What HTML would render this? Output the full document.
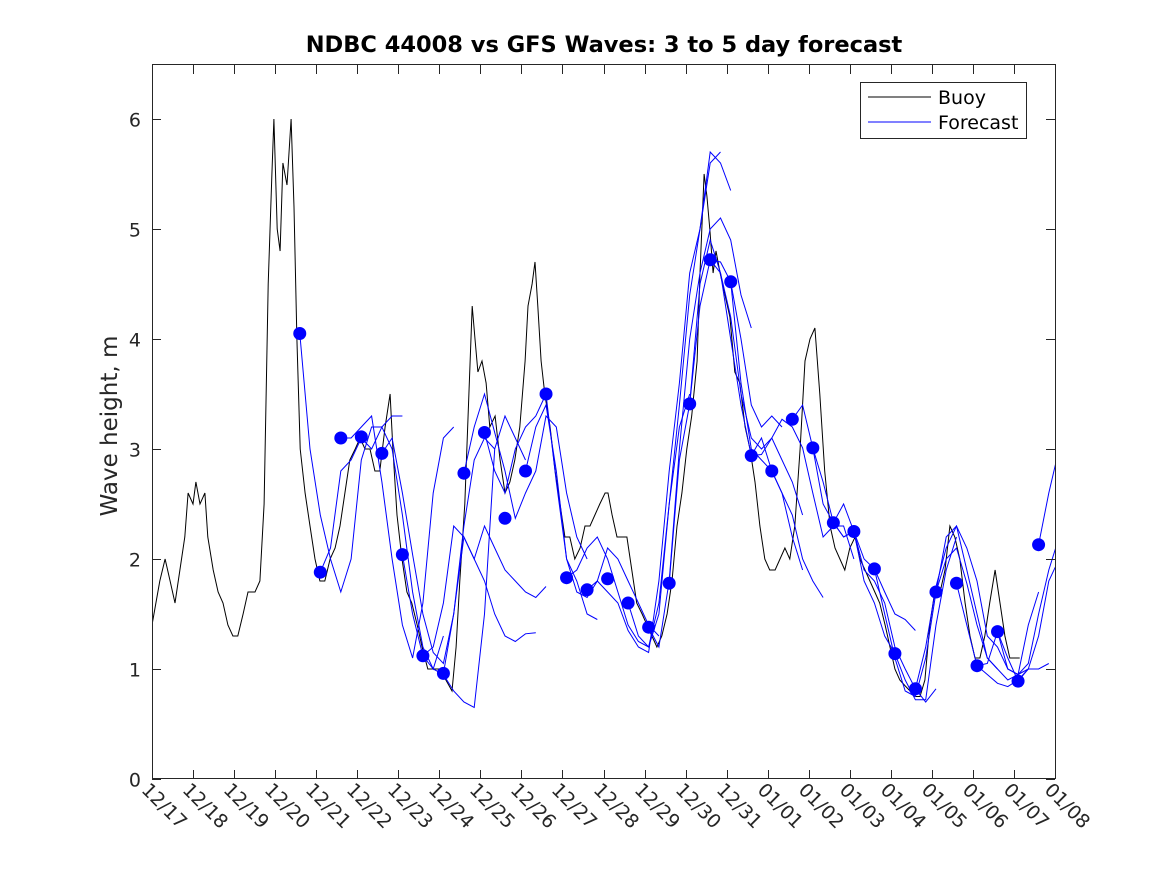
<!DOCTYPE html>
<html><head><meta charset="utf-8"><style>
body{margin:0;background:#fff;}
svg{display:block;font-family:"DejaVu Sans","Liberation Sans",sans-serif;}
</style></head><body>
<svg id="chart" width="1167" height="875" xmlns="http://www.w3.org/2000/svg">
<rect width="1167" height="875" fill="#fff"/>
<text x="604" y="52" text-anchor="middle" font-size="22.5" font-weight="bold" fill="#000">NDBC 44008 vs GFS Waves: 3 to 5 day forecast</text>
<text transform="translate(117,426) rotate(-90)" text-anchor="middle" font-size="23" fill="#262626">Wave height, m</text>
<g id="plot"></g>
<rect x="152.5" y="64.5" width="903" height="714" fill="none" stroke="#262626" stroke-width="1"/>
<g id="axes"></g>
<g>
<rect x="860.5" y="82.5" width="166" height="56" fill="#fff" stroke="#262626"/>
<line x1="868" y1="97" x2="931" y2="97" stroke="#000"/>
<text x="938" y="104" font-size="19" fill="#000">Buoy</text>
<line x1="868" y1="122" x2="931" y2="122" stroke="#00f"/>
<text x="938" y="129" font-size="19" fill="#000">Forecast</text>
</g>
</svg>
<script>
const xTickLabels=["12/17","12/18","12/19","12/20","12/21","12/22","12/23","12/24","12/25","12/26","12/27","12/28","12/29","12/30","12/31","01/01","01/02","01/03","01/04","01/05","01/06","01/07","01/08"];
const yTicks=[0,1,2,3,4,5,6];
const buoyDay=[0,.19,.32,.44,.56,.68,.80,.88,1.0,1.07,1.17,1.29,1.36,1.49,1.61,1.73,1.85,1.97,2.09,2.22,2.34,2.51,2.63,2.73,2.83,2.92,2.97,3.05,3.12,3.19,3.29,3.39,3.46,3.53,3.61,3.73,3.85,3.97,4.09,4.21,4.34,4.46,4.58,4.70,4.82,4.95,5.07,5.19,5.31,5.43,5.55,5.68,5.80,5.87,5.97,6.09,6.21,6.33,6.46,6.58,6.72,6.85,7.02,7.16,7.31,7.41,7.50,7.62,7.72,7.80,7.87,7.94,8.04,8.14,8.23,8.36,8.48,8.60,8.72,8.84,8.96,9.09,9.16,9.26,9.33,9.40,9.48,9.57,9.70,9.82,9.94,10.06,10.18,10.30,10.43,10.55,10.67,10.79,10.91,11.04,11.11,11.21,11.33,11.45,11.57,11.69,11.81,11.94,12.06,12.18,12.30,12.42,12.55,12.67,12.79,12.91,13.03,13.15,13.28,13.35,13.45,13.52,13.59,13.67,13.74,13.84,13.96,14.08,14.20,14.32,14.45,14.57,14.69,14.81,14.93,15.05,15.18,15.30,15.42,15.54,15.66,15.79,15.91,16.03,16.15,16.27,16.39,16.52,16.64,16.76,16.88,17.00,17.13,17.25,17.37,17.49,17.61,17.73,17.86,17.98,18.10,18.22,18.34,18.47,18.59,18.71,18.83,18.95,19.07,19.20,19.32,19.44,19.56,19.68,19.81,19.93,20.05,20.17,20.29,20.41,20.54,20.66,20.78,20.90,21.02,21.14];
const buoy=[1.4,1.8,2.0,1.8,1.6,1.9,2.2,2.6,2.5,2.7,2.5,2.6,2.2,1.9,1.7,1.6,1.4,1.3,1.3,1.5,1.7,1.7,1.8,2.5,4.5,5.5,6.0,5.0,4.8,5.6,5.4,6.0,5.2,4.0,3.0,2.6,2.3,2.0,1.8,1.8,2.0,2.1,2.3,2.6,2.9,3.0,3.1,3.0,3.0,2.8,2.8,3.2,3.5,3.0,2.4,2.0,1.7,1.6,1.4,1.2,1.0,1.0,1.0,0.9,0.8,1.2,1.8,2.5,3.5,4.3,4.0,3.7,3.8,3.6,3.2,3.3,2.9,2.6,2.7,2.9,3.2,3.8,4.3,4.5,4.7,4.3,3.8,3.5,3.2,2.8,2.5,2.2,2.2,2.0,2.1,2.3,2.3,2.4,2.5,2.6,2.6,2.4,2.2,2.2,2.2,1.9,1.6,1.5,1.4,1.3,1.2,1.3,1.5,1.8,2.3,2.6,3.0,3.3,3.8,4.6,5.5,5.3,5.0,4.6,4.8,4.6,4.4,4.2,3.7,3.6,3.2,3.0,2.7,2.3,2.0,1.9,1.9,2.0,2.1,2.0,2.3,3.0,3.8,4.0,4.1,3.5,2.8,2.3,2.1,2.0,1.9,2.1,2.2,2.0,1.9,1.8,1.7,1.6,1.4,1.2,1.0,0.9,0.85,0.8,0.75,0.75,0.9,1.4,1.7,1.7,1.9,2.3,2.2,2.0,1.6,1.3,1.1,1.1,1.3,1.6,1.9,1.6,1.3,1.1,1.1,1.1];
const markerStartDay=3.6, markerStep=0.5, fcStep=0.25;
const markers=[4.05,1.88,3.1,3.11,2.96,2.04,1.12,0.96,2.78,3.15,2.37,2.8,3.5,1.83,1.72,1.82,1.6,1.38,1.78,3.41,4.72,4.52,2.94,2.8,3.27,3.01,2.33,2.25,1.91,1.14,0.82,1.7,1.78,1.03,1.34,0.89,2.13];
const fcStart=[0,1,2,4,5,6,7,8,9,11,13,14,16,17,18,19,20,21,22,24,25,26,28,30,31,32,33,34,36];
const fcValues=[
[4.05,3.0,2.4,2.0,1.7,2.0,2.9,3.2,3.2,3.3,3.3],
[1.88,2.1,2.8,2.9,3.1,3.0,3.2,3.0,2.4,1.7,1.2,1.0,1.3],
[3.1,3.1,3.2,3.3,2.7,2.0,1.4,1.1,1.6,2.6,3.1,3.2],
[2.96,3.1,2.6,2.04,1.5,1.15,1.05,1.5,2.3,2.9,3.1,3.0],
[2.04,1.5,1.12,1.0,0.95,0.8,0.7,0.65,1.5,3.0,3.3,3.1,2.9],
[1.12,1.2,1.6,2.3,2.2,2.0,2.3,2.1,1.9,1.8,1.7,1.65,1.75],
[0.96,1.5,2.2,2.0,1.8,1.5,1.3,1.25,1.32,1.33],
[2.78,3.2,3.5,3.15,2.8,2.37,2.6,2.8,3.3,3.2,2.6,2.2,2.0],
[3.15,2.8,2.6,3.0,3.2,3.3,3.5,2.7,2.0,1.8,1.5,1.45],
[2.8,3.2,3.4,2.8,2.0,1.7,1.65,1.8,2.1,2.0,1.8,1.6,1.4,1.3],
[1.83,1.9,2.1,2.2,2.0,1.7,1.4,1.25,1.2,1.5,2.5,3.2,3.5],
[1.72,1.8,1.7,1.6,1.35,1.2,1.15,1.8,2.8,3.6,4.6,5.0,5.6,5.7],
[1.6,1.3,1.2,1.6,2.5,3.4,4.4,5.0,5.7,5.6,5.35],
[1.38,1.2,1.8,3.0,4.0,4.6,5.0,5.1,4.9,4.4,4.1],
[1.78,2.9,3.41,4.3,4.72,4.7,4.52,4.0,3.4,3.2,3.3,3.2],
[3.41,4.5,4.9,4.6,4.2,3.5,3.1,3.0,3.1,2.9,2.7,2.4],
[4.72,4.6,4.0,3.4,2.94,3.1,2.8,2.6,2.2,1.9],
[4.52,3.6,3.0,2.9,2.8,2.6,2.4,2.0,1.8,1.65],
[2.94,2.95,3.1,3.27,3.2,3.01,2.6,2.2,2.3,2.3,2.0],
[3.27,3.4,3.01,2.5,2.33,2.5,2.25,2.0,1.91,1.7,1.5,1.45,1.35],
[3.01,2.7,2.33,2.2,2.25,1.9,1.8,1.6,1.2,1.0,0.82,0.7,0.82],
[2.33,2.2,2.25,1.8,1.6,1.3,1.14,0.9,0.72,0.72,1.4,1.9,2.2],
[1.91,1.5,1.1,0.8,0.75,1.1,1.7,2.2,2.3,1.9,1.5,1.1,1.0],
[0.82,1.2,1.75,2.1,2.3,2.1,1.8,1.3,1.2,1.0,0.95,1.0],
[1.7,2.0,2.1,1.78,1.4,1.1,1.0,0.9,0.95,1.4,1.7],
[1.78,1.4,1.03,0.95,0.87,0.84,0.9,1.0,1.0,1.05],
[1.03,1.05,1.34,1.0,0.95,1.05,1.5,1.9,2.2],
[1.34,1.1,0.89,1.0,1.3,1.8,2.0,2.2],
[2.13,2.6,3.0]
];
const NS="http://www.w3.org/2000/svg";
const X0=152,X1=1055,Y0=779,PXU=110,NDAYS=22;
const xs=d=>X0+d*(X1-X0)/NDAYS;
const ys=v=>Y0-v*PXU;
const plot=document.getElementById('plot'), axes=document.getElementById('axes');
function mk(tag,attrs,parent){const e=document.createElementNS(NS,tag);for(const k in attrs)e.setAttribute(k,attrs[k]);parent.appendChild(e);return e;}
const clip=mk('clipPath',{id:'cp'},plot);mk('rect',{x:152,y:64,width:904,height:715},clip);
const g=mk('g',{'clip-path':'url(#cp)'},plot);
let bp=buoy.map((v,i)=>(i?'L':'M')+xs(buoyDay[i]).toFixed(1)+','+ys(v).toFixed(1)).join('');
const bl=mk('path',{d:bp,fill:'none',stroke:'#000','stroke-width':1},g);


fcValues.forEach((vals,k)=>{
  const sd=markerStartDay+fcStart[k]*markerStep;
  const d=vals.map((v,i)=>(i?'L':'M')+xs(sd+i*fcStep).toFixed(1)+','+ys(v).toFixed(1)).join('');
  const p=mk('path',{d:d,fill:'none',stroke:'#00f','stroke-width':1},g);
  
  
});
markers.forEach((v,i)=>{
  const c=mk('circle',{cx:xs(markerStartDay+i*markerStep),cy:ys(v),r:6.5,fill:'#00f'},plot);
  
  
});
yTicks.forEach(t=>{
  const y=ys(t)+0.5;
  mk('line',{x1:152,y1:y,x2:161,y2:y,stroke:'#262626'},axes);
  mk('line',{x1:1046,y1:y,x2:1055,y2:y,stroke:'#262626'},axes);
  const tx=mk('text',{x:141,y:y+7,'text-anchor':'end','font-size':19,fill:'#262626'},axes);
  tx.textContent=t;
  
  
});
xTickLabels.forEach((l,i)=>{
  const x=Math.round(xs(i))+0.5;
  mk('line',{x1:x,y1:779,x2:x,y2:770,stroke:'#262626'},axes);
  mk('line',{x1:x,y1:65,x2:x,y2:74,stroke:'#262626'},axes);
  const tx=mk('text',{transform:`translate(${x-12},${791}) rotate(45)`,'font-size':19,fill:'#262626'},axes);
  tx.textContent=l;
  
  
});
</script>
</body></html>
